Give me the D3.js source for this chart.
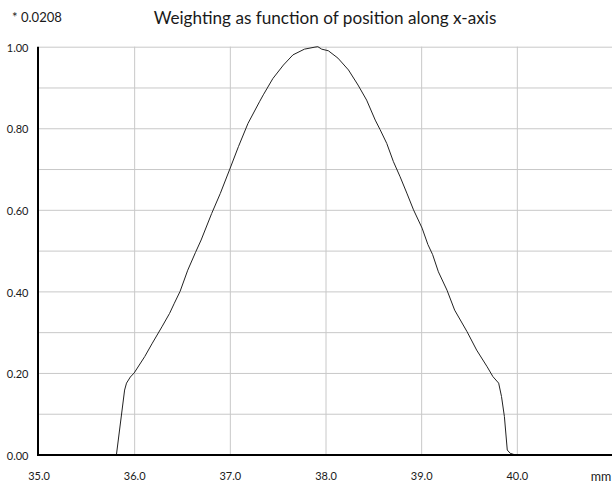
<!DOCTYPE html>
<html><head><meta charset="utf-8">
<script src="https://cdn.jsdelivr.net/npm/d3@7"></script>
<style>
html,body{margin:0;padding:0;background:#fff;}
svg{display:block;}
text{font-family:Lato,"Open Sans",sans-serif;fill:#1a1a1a;}
</style></head>
<body>
<svg id="chart" width="612" height="484"></svg>
<script>
// ---- data ----
const title = "Weighting as function of position along x-axis";
const scaleNote = "* 0.0208";
const xUnit = "mm";
const xTicks = [35, 36, 37, 38, 39, 40];
const xGrid = [36, 37, 38, 39, 40];
const yTicks = [0, 0.2, 0.4, 0.6, 0.8, 1.0];
const yGrid = [0.1, 0.2, 0.3, 0.4, 0.5, 0.6, 0.7, 0.8, 0.9, 1.0];
const posX = [35.0, 35.815, 35.90, 35.92, 35.96, 36.00, 36.11, 36.19, 36.29, 36.37, 36.42, 36.48, 36.56, 36.64, 36.70, 36.81, 36.90, 37.00, 37.09, 37.19, 37.31, 37.35, 37.45, 37.56, 37.66, 37.78, 37.89, 37.92, 37.96, 38.03, 38.13, 38.24, 38.34, 38.43, 38.52, 38.57, 38.64, 38.71, 38.78, 38.85, 38.92, 39.01, 39.07, 39.12, 39.18, 39.27, 39.35, 39.48, 39.58, 39.69, 39.75, 39.81, 39.84, 39.87, 39.90, 39.93, 39.97, 41.0];
const weight = [0.0, 0.0, 0.158, 0.175, 0.19, 0.20, 0.24, 0.273, 0.313, 0.346, 0.371, 0.40, 0.452, 0.495, 0.526, 0.591, 0.640, 0.700, 0.755, 0.812, 0.865, 0.882, 0.922, 0.955, 0.980, 0.994, 0.999, 1.0, 0.994, 0.99, 0.972, 0.943, 0.906, 0.869, 0.82, 0.797, 0.763, 0.718, 0.681, 0.641, 0.600, 0.555, 0.515, 0.49, 0.448, 0.403, 0.354, 0.301, 0.256, 0.215, 0.191, 0.175, 0.142, 0.093, 0.011, 0.003, 0.0, 0.0];

// ---- chart ----
const svg = d3.select("#chart");
const x = d3.scaleLinear().domain([35, 41]).range([38.5, 612.5]);
const y = d3.scaleLinear().domain([0, 1]).range([454.5, 46.7]);

// grid
svg.append("g").attr("transform", `translate(0,${y(0)})`)
  .call(d3.axisBottom(x).tickValues(xGrid).tickSize(-(y(0) - y(1))).tickFormat(""))
  .call(g => g.select(".domain").remove())
  .call(g => g.selectAll("line").attr("stroke", "#c8c8c8").attr("stroke-width", 1));
svg.append("g").attr("transform", `translate(${x(35)},0)`)
  .call(d3.axisLeft(y).tickValues(yGrid).tickSize(-(x(41) - x(35))).tickFormat(""))
  .call(g => g.select(".domain").remove())
  .call(g => g.selectAll("line").attr("stroke", "#c8c8c8").attr("stroke-width", 1));

// curve
const pts = posX.map((v, i) => [v, weight[i]]);
svg.append("path").datum(pts)
  .attr("fill", "none").attr("stroke", "#222").attr("stroke-width", 1)
  .attr("d", d3.line().x(d => x(d[0])).y(d => y(d[1])));

// axis lines
svg.append("line").attr("x1", x(35) - 0.5).attr("x2", x(35) - 0.5)
  .attr("y1", y(1)).attr("y2", y(0) + 1).attr("stroke", "#000").attr("stroke-width", 2);
svg.append("line").attr("x1", x(35) - 1.5).attr("x2", 612)
  .attr("y1", y(0) + 0.5).attr("y2", y(0) + 0.5).attr("stroke", "#000").attr("stroke-width", 2);

// tick labels
svg.append("g").attr("transform", `translate(${x(35) - 10},0)`)
  .call(d3.axisLeft(y).tickValues(yTicks).tickSize(0).tickPadding(0).tickFormat(d3.format(".2f")))
  .call(g => g.select(".domain").remove())
  .call(g => g.selectAll("text").attr("font-size", 11).attr("dy", "0.42em")
    .style("font-family", "Lato,'Open Sans',sans-serif").attr("fill", "#1a1a1a"));
svg.append("g").attr("transform", `translate(0,${y(0) + 17.5})`)
  .call(d3.axisBottom(x).tickValues(xTicks).tickSize(0).tickPadding(0).tickFormat(d3.format(".1f")))
  .call(g => g.select(".domain").remove())
  .call(g => g.selectAll("text").attr("font-size", 11)
    .style("font-family", "Lato,'Open Sans',sans-serif").attr("fill", "#1a1a1a"));

svg.append("text").attr("x", 601).attr("y", 480.5).attr("text-anchor", "middle")
  .attr("font-size", 12.5).text(xUnit);

// title, sized so its width matches the reference (~343px)
const t = svg.append("text").attr("x", 325).attr("y", 24).attr("text-anchor", "middle")
  .attr("font-size", 16).text(title);
const tw = t.node().getComputedTextLength();
t.attr("font-size", 16 * 343 / tw);

const n = svg.append("text").attr("x", 12).attr("y", 22).attr("font-size", 12).text(scaleNote);
const nw = n.node().getComputedTextLength();
n.attr("font-size", 12 * 50 / nw);
</script>
</body></html>
